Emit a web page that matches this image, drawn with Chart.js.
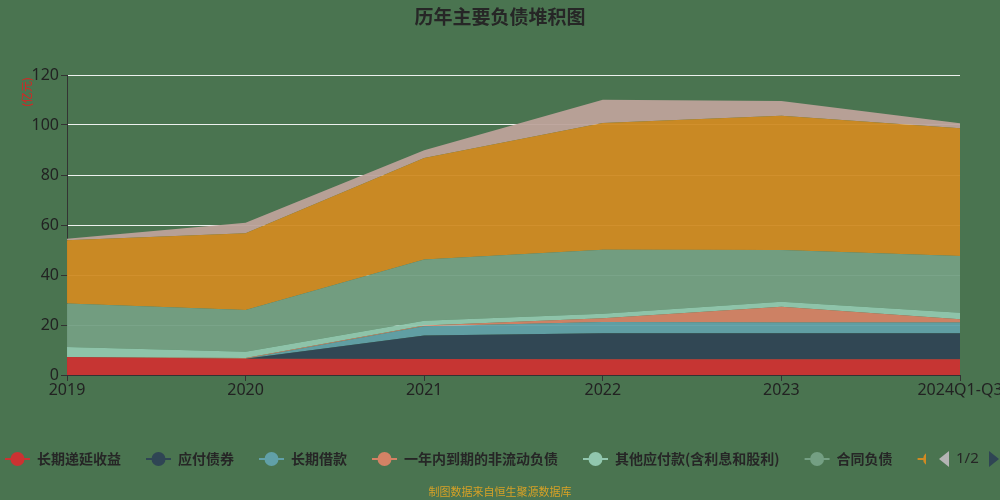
<!DOCTYPE html>
<html>
<head>
<meta charset="utf-8">
<script src="https://cdn.jsdelivr.net/npm/chart.js@4/dist/chart.umd.min.js"></script>
<style>
  html, body { margin: 0; padding: 0; background: #4a7450; }
  #wrap { width: 1000px; height: 500px; position: relative; }
</style>
</head>
<body>
<div id="wrap"><canvas id="chart" width="1000" height="500"></canvas></div>
<script>
// categories and series (亿元), stacked from bottom to top
let years = ['2019', '2020', '2021', '2022', '2023', '2024Q1-Q3'];
let seriesNames = ['长期递延收益', '应付债券', '长期借款', '一年内到期的非流动负债', '其他应付款(含利息和股利)', '合同负债', '应付账款', '应付票据'];
let seriesColors = ['#cc3232', '#2f4554', '#61a0a8', '#d48265', '#91c7ae', '#749f83', '#d08a22', '#bda29a'];

let deferredIncome = [7.2, 6.5, 6.4, 6.3, 6.3, 6.3];
let bondsPayable = [0, 0, 9.4, 10.4, 10.4, 10.4];
let longTermLoans = [0, 0, 3.7, 4.5, 4.3, 4.3];
let currentNonCurrent = [0, 0.3, 0.3, 1.5, 6.3, 1.3];
let otherPayables = [4.0, 2.5, 1.9, 1.8, 2.0, 2.6];
let contractLiabilities = [17.4, 16.7, 24.5, 25.6, 20.7, 22.7];
let accountsPayable = [25.3, 30.7, 40.6, 50.7, 53.7, 51.1];
let notesPayable = [0.6, 4.2, 3.1, 9.3, 5.9, 2.0];

let yTicks = [0, 20, 40, 60, 80, 100, 120];

let seriesValues = [deferredIncome, bondsPayable, longTermLoans, currentNonCurrent,
    otherPayables, contractLiabilities, accountsPayable, notesPayable];

function withAlpha(hex, a) {
    let n = parseInt(hex.slice(1), 16);
    return `rgba(${(n >> 16) & 255}, ${(n >> 8) & 255}, ${n & 255}, ${a})`;
}

let datasets = seriesValues.map((vals, i) => ({
    label: seriesNames[i],
    data: vals,
    fill: i === 0 ? 'origin' : '-1',
    backgroundColor: withAlpha(seriesColors[i], 0.95),
    borderColor: seriesColors[i],
    borderWidth: 0,
    pointRadius: 0,
    tension: 0
}));

// background, title, unit label, legend, source note
const decorations = {
    id: 'decorations',
    beforeDraw(chart) {
        const c = chart.ctx;
        c.save();
        c.fillStyle = '#4a7450';
        c.fillRect(0, 0, chart.width, chart.height);
        c.restore();
    },
    afterDraw(chart) {
        const c = chart.ctx;
        c.save();
        c.fillStyle = '#262626';
        c.font = 'bold 19px "Noto Sans CJK SC"';
        c.textAlign = 'center';
        c.textBaseline = 'middle';
        c.fillText('历年主要负债堆积图', 500, 17);

        c.save();
        c.translate(27, 92);
        c.rotate(-Math.PI / 2);
        c.fillStyle = '#e02020';
        c.font = '11px "Noto Sans CJK SC"';
        c.fillText('(亿元)', 0, 0);
        c.restore();

        // legend
        let x = 5;
        const y = 459;
        c.font = 'bold 14px "Noto Sans CJK SC"';
        c.textAlign = 'left';
        for (let i = 0; i < seriesNames.length - 1; i++) {
            c.strokeStyle = seriesColors[i];
            c.lineWidth = 2;
            c.beginPath();
            c.moveTo(x, y);
            c.lineTo(x + 25, y);
            c.stroke();
            c.fillStyle = seriesColors[i];
            c.beginPath();
            c.arc(x + 12.5, y, 7, 0, Math.PI * 2);
            c.fill();
            if (i < 6) {
                c.fillStyle = '#262626';
                c.fillText(seriesNames[i], x + 32, y);
                x += 32 + c.measureText(seriesNames[i]).width + 25;
            }
        }
        // pager
        c.fillStyle = '#4a7450';
        c.fillRect(926, 445, 74, 30);
        c.fillStyle = '#b4b4b4';
        c.beginPath();
        c.moveTo(949, 451);
        c.lineTo(949, 467);
        c.lineTo(939, 459);
        c.closePath();
        c.fill();
        c.fillStyle = '#262626';
        c.font = '15px "Noto Sans"';
        c.fillText('1/2', 956, y);
        c.fillStyle = '#2f4554';
        c.beginPath();
        c.moveTo(989, 451);
        c.lineTo(989, 467);
        c.lineTo(999, 459);
        c.closePath();
        c.fill();

        c.fillStyle = '#d6a126';
        c.font = '11px "Noto Sans CJK SC"';
        c.textAlign = 'center';
        c.fillText('制图数据来自恒生聚源数据库', 500, 492);
        c.restore();
    }
};

const ctx = document.getElementById('chart').getContext('2d');
const myChart = new Chart(ctx, {
    type: 'line',
    data: {
        labels: years,
        datasets: datasets
    },
    options: {
        responsive: false,
        animation: false,
        layout: { padding: { left: 0, right: 40, top: 75, bottom: 100 } },
        plugins: {
            legend: { display: false },
            tooltip: { enabled: false }
        },
        scales: {
            x: {
                offset: false,
                afterFit: s => { s.height = 25; s.paddingLeft = 0; s.paddingRight = 0; },
                grid: {
                    drawOnChartArea: false,
                    tickColor: '#333333',
                    tickLength: 6
                },
                border: { color: '#333333', width: 1 },
                ticks: {
                    color: '#222222',
                    font: { size: 16, family: 'Noto Sans' },
                    maxRotation: 0,
                    autoSkip: false,
                    padding: 0
                }
            },
            y: {
                stacked: true,
                min: 0,
                max: 120,
                afterFit: s => { s.width = 67; },
                afterBuildTicks: s => { s.ticks = yTicks.map(v => ({ value: v })); },
                grid: {
                    color: 'rgba(255,255,255,0.9)',
                    tickColor: '#333333',
                    tickLength: 6
                },
                border: { color: '#333333', width: 1 },
                ticks: {
                    color: '#222222',
                    font: { size: 16, family: 'Noto Sans' },
                    padding: 2
                }
            }
        }
    },
    plugins: [decorations]
});
</script>
</body>
</html>
